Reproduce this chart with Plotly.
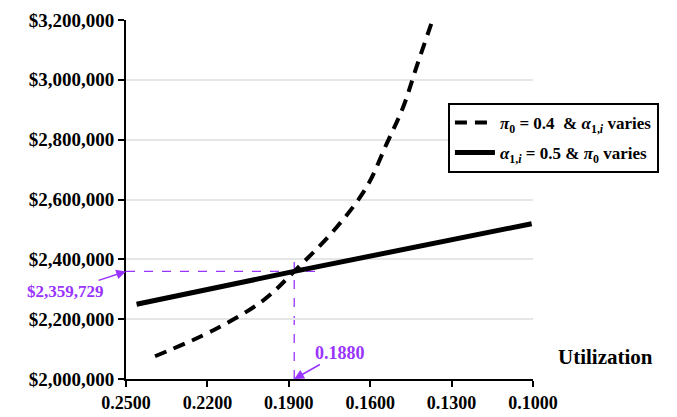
import plotly.graph_objects as go

# Data
dash_x = [0.2393, 0.2178, 0.1994, 0.1880, 0.1723, 0.1613, 0.1539, 0.1478, 0.1429, 0.1371]
dash_y = [2076000, 2163000, 2263000, 2359729, 2508000, 2642000, 2787000, 2910000, 3044000, 3198000]
solid_x = [0.2461, 0.1880, 0.1005]
solid_y = [2250000, 2359729, 2519000]
x_ticks = [0.25, 0.22, 0.19, 0.16, 0.13, 0.10]
y_ticks = [2000000, 2200000, 2400000, 2600000, 2800000, 3000000, 3200000]
y_labels = ["$2,000,000", "$2,200,000", "$2,400,000", "$2,600,000", "$2,800,000", "$3,000,000", "$3,200,000"]
cross_x = 0.1880
cross_y = 2359729
name_dash = "<i>π</i><sub>0</sub> = 0.4  & <i>α</i><sub>1,<i>i</i></sub> varies"
name_solid = "<i>α</i><sub>1,<i>i</i></sub> = 0.5 & <i>π</i><sub>0</sub> varies"

purple = "#9933FF"
font = "Liberation Serif"

fig = go.Figure()
fig.add_trace(go.Scatter(x=dash_x, y=dash_y, mode="lines", name=name_dash, legendgroup="a",
                         line=dict(color="black", width=4, dash="12px,8px", shape="spline")))
fig.add_trace(go.Scatter(x=solid_x, y=solid_y, mode="lines", name=name_solid, legendgroup="b",
                         line=dict(color="black", width=5, shape="spline")))

fig.add_shape(type="line", x0=0.25, x1=0.177, y0=cross_y, y1=cross_y,
              line=dict(color=purple, width=1.3, dash="dash"), layer="below")
fig.add_shape(type="line", x0=cross_x, x1=cross_x, y0=2000000, y1=2404000,
              line=dict(color=purple, width=1.3, dash="dash"), layer="below")

fig.add_annotation(x=0.25, y=cross_y, text="$2,359,729", showarrow=True,
                   ax=-61, ay=20, arrowhead=2, arrowsize=1.3, arrowwidth=1.5, arrowcolor=purple,
                   standoff=0, font=dict(family=font, size=17, color=purple, weight="bold"))
fig.add_annotation(x=cross_x, y=2000000, text="0.1880", showarrow=True,
                   ax=46, ay=-26, arrowhead=2, arrowsize=1.3, arrowwidth=1.5, arrowcolor=purple,
                   standoff=0, font=dict(family=font, size=18, color=purple, weight="bold"))
fig.add_annotation(xref="paper", yref="paper", x=1.30, y=0.061, xanchor="right", yanchor="middle",
                   text="Utilization", showarrow=False,
                   font=dict(family=font, size=21, color="black", weight="bold"))

fig.update_layout(
    width=677, height=417,
    margin=dict(l=126, r=144, t=20, b=38, autoexpand=False),
    plot_bgcolor="white", paper_bgcolor="white",
    font=dict(family=font, size=16, color="black"),
    showlegend=True,
    legend=dict(x=0.791, y=0.769, xanchor="left", yanchor="top",
                bordercolor="black", borderwidth=2, bgcolor="white",
                font=dict(family=font, size=17, color="black", weight="bold"),
                tracegroupgap=5, itemwidth=40, traceorder="grouped"),
)
fig.update_xaxes(range=[0.25, 0.10], tickvals=x_ticks, tickformat=".4f", automargin=False,
                 showgrid=False, showline=True, linecolor="black", linewidth=2,
                 ticks="outside", ticklen=6, tickwidth=2, tickcolor="black",
                 tickfont=dict(family=font, size=18, color="black", weight="bold"), zeroline=False)
fig.update_yaxes(range=[2000000, 3200000], tickvals=y_ticks, ticktext=y_labels, automargin=False,
                 showgrid=True, gridcolor="#e6e6e6", gridwidth=2,
                 showline=True, linecolor="black", linewidth=2,
                 ticks="outside", ticklen=6, tickwidth=2, tickcolor="black",
                 tickfont=dict(family=font, size=19, color="black", weight="bold"), zeroline=False)

fig.write_html("out.html")
